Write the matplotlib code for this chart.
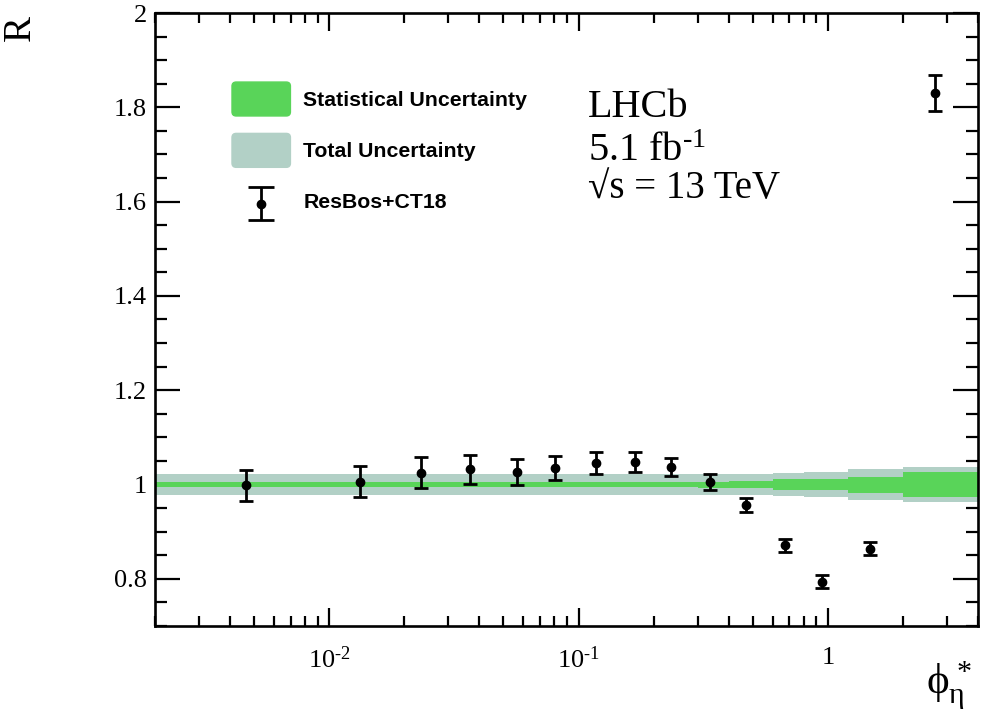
import numpy as np
import matplotlib
matplotlib.use("Agg")
import matplotlib.pyplot as plt
from matplotlib.patches import Patch, FancyBboxPatch
from matplotlib.lines import Line2D
from matplotlib.collections import LineCollection
from matplotlib.legend_handler import HandlerPatch, HandlerErrorbar
from matplotlib.container import ErrorbarContainer
from matplotlib.ticker import FixedLocator, FixedFormatter, MultipleLocator, LogLocator, NullFormatter

plt.rcParams['font.family'] = ['Liberation Serif', 'DejaVu Serif']
plt.rcParams['mathtext.fontset'] = 'custom'
plt.rcParams['mathtext.rm'] = 'Liberation Serif'
plt.rcParams['mathtext.it'] = 'Liberation Serif:italic'
plt.rcParams['mathtext.bf'] = 'Liberation Serif:bold'

# ResBos+CT18 / data ratio
phi = [0.00464, 0.0133, 0.0233, 0.0368, 0.0569, 0.0803, 0.1174, 0.1679,
       0.2349, 0.3357, 0.4716, 0.672, 0.943, 1.479, 2.69]
ratio = [0.998, 1.006, 1.025, 1.032, 1.027, 1.035, 1.046, 1.047,
         1.038, 1.005, 0.956, 0.871, 0.794, 0.864, 1.830]
ratio_err = [0.0335, 0.0335, 0.0325, 0.031, 0.0276, 0.025, 0.023, 0.021,
             0.019, 0.0166, 0.015, 0.014, 0.0134, 0.0138, 0.0378]

# phi* bin edges (first edge is 0, put below the axis range for log scale)
edges = [0.001, 0.01, 0.02, 0.03, 0.05, 0.07, 0.1, 0.15, 0.2, 0.3, 0.4,
         0.6, 0.8, 1.2, 2.0, 4.0]
stat_unc = [0.005, 0.005, 0.005, 0.005, 0.005, 0.005, 0.005, 0.005,
            0.0055, 0.0064, 0.008, 0.011, 0.012, 0.017, 0.026]
tot_unc = [0.023, 0.023, 0.023, 0.023, 0.023, 0.023, 0.023, 0.023,
           0.023, 0.022, 0.023, 0.025, 0.027, 0.032, 0.038]

xtick_vals = [0.01, 0.1, 1]
xtick_labels = [r'$10^{\text{-2}}$', r'$10^{\text{-1}}$', '1']

stat_color = '#59d459'
tot_color = '#b2d0c6'

fig = plt.figure(figsize=(9.82, 7.15), dpi=100)
ax = fig.add_axes([0.1578, 0.1245, 0.8381, 0.8573])

# uncertainty bands around 1
edges_a = np.array(edges)
tot = np.array(tot_unc + [tot_unc[-1]])
stat = np.array(stat_unc + [stat_unc[-1]])
ax.fill_between(edges_a, 1 - tot, 1 + tot, step='post', color=tot_color, lw=0, zorder=1)
ax.fill_between(edges_a, 1 - stat, 1 + stat, step='post', color=stat_color, lw=0, zorder=2)

eb = ax.errorbar(phi, ratio, yerr=ratio_err, fmt='o', color='black', ms=6,
                 elinewidth=2, capsize=4.8, capthick=2, zorder=3, label='ResBos+CT18')

ax.set_xscale('log')
ax.set_xlim(0.002, 4.0)
ax.set_ylim(0.7, 2.0)

ax.xaxis.set_major_locator(FixedLocator(xtick_vals))
ax.xaxis.set_major_formatter(FixedFormatter(xtick_labels))
ax.xaxis.set_minor_locator(LogLocator(base=10, subs=np.arange(2, 10), numticks=20))
ax.xaxis.set_minor_formatter(NullFormatter())
ax.yaxis.set_major_locator(MultipleLocator(0.2))
ax.yaxis.set_minor_locator(MultipleLocator(0.05))
ax.yaxis.set_major_formatter(matplotlib.ticker.FuncFormatter(lambda v, p: f'{v:g}'))

for s in ax.spines.values():
    s.set_linewidth(1.9)
ax.tick_params(axis='both', which='both', direction='in', top=True, right=True, width=1.6)
ax.tick_params(axis='x', which='major', length=13, pad=15, labelsize=19)
ax.tick_params(axis='x', which='minor', length=7)
ax.tick_params(axis='y', which='major', length=18, pad=6, labelsize=19)
ax.tick_params(axis='y', which='minor', length=8.6)

fig.text(0.0204, 0.961, 'R', rotation=90, ha='center', va='center', fontsize=28)
fig.text(0.967, 0.040, r'$\mathrm{\phi}_{\mathrm{\eta}}^{\,*}$', ha='center', va='center', fontsize=31)

ax.text(0.526, 0.830, 'LHCb', transform=ax.transAxes, fontsize=29, va='baseline')
ax.text(0.526, 0.759, r'5.1 fb$^{\text{-1}}$', transform=ax.transAxes, fontsize=29, va='baseline')
ax.text(0.526, 0.698, '√s = 13 TeV', transform=ax.transAxes, fontsize=28, va='baseline')


def rounded_box(legend, orig_handle, xdescent, ydescent, width, height, fontsize):
    return FancyBboxPatch((-xdescent, -ydescent), width, height,
                          boxstyle='round,pad=0,rounding_size=3')


class WideCapHandler(HandlerErrorbar):
    # legend error bar: wider caps, centred on its label
    def create_artists(self, *args, **kwargs):
        arts = super().create_artists(*args, **kwargs)
        dy = -5.0
        for a in arts:
            if isinstance(a, Line2D):
                a.set_ydata(np.asarray(a.get_ydata()) + dy)
                if a.get_marker() == '_':
                    a.set_markersize(19)
            elif isinstance(a, LineCollection):
                a.set_segments([np.asarray(s) + [0, dy] for s in a.get_segments()])
        return arts


handles = [Patch(facecolor=stat_color, edgecolor=stat_color),
           Patch(facecolor=tot_color, edgecolor=tot_color),
           eb]
labels = ['Statistical Uncertainty', 'Total Uncertainty', 'ResBos+CT18']
ax.legend(handles, labels, loc='upper left', bbox_to_anchor=(0.0936, 0.8874),
          borderaxespad=0, borderpad=0, frameon=False,
          prop={'family': 'Liberation Sans', 'weight': 'bold', 'size': 15.3},
          handlelength=2.75, handleheight=2.08, labelspacing=0.82, handletextpad=0.6,
          handler_map={Patch: HandlerPatch(patch_func=rounded_box),
                       ErrorbarContainer: WideCapHandler(xerr_size=0.78, yerr_size=0.78)})

fig.savefig('out.png', dpi=100)
